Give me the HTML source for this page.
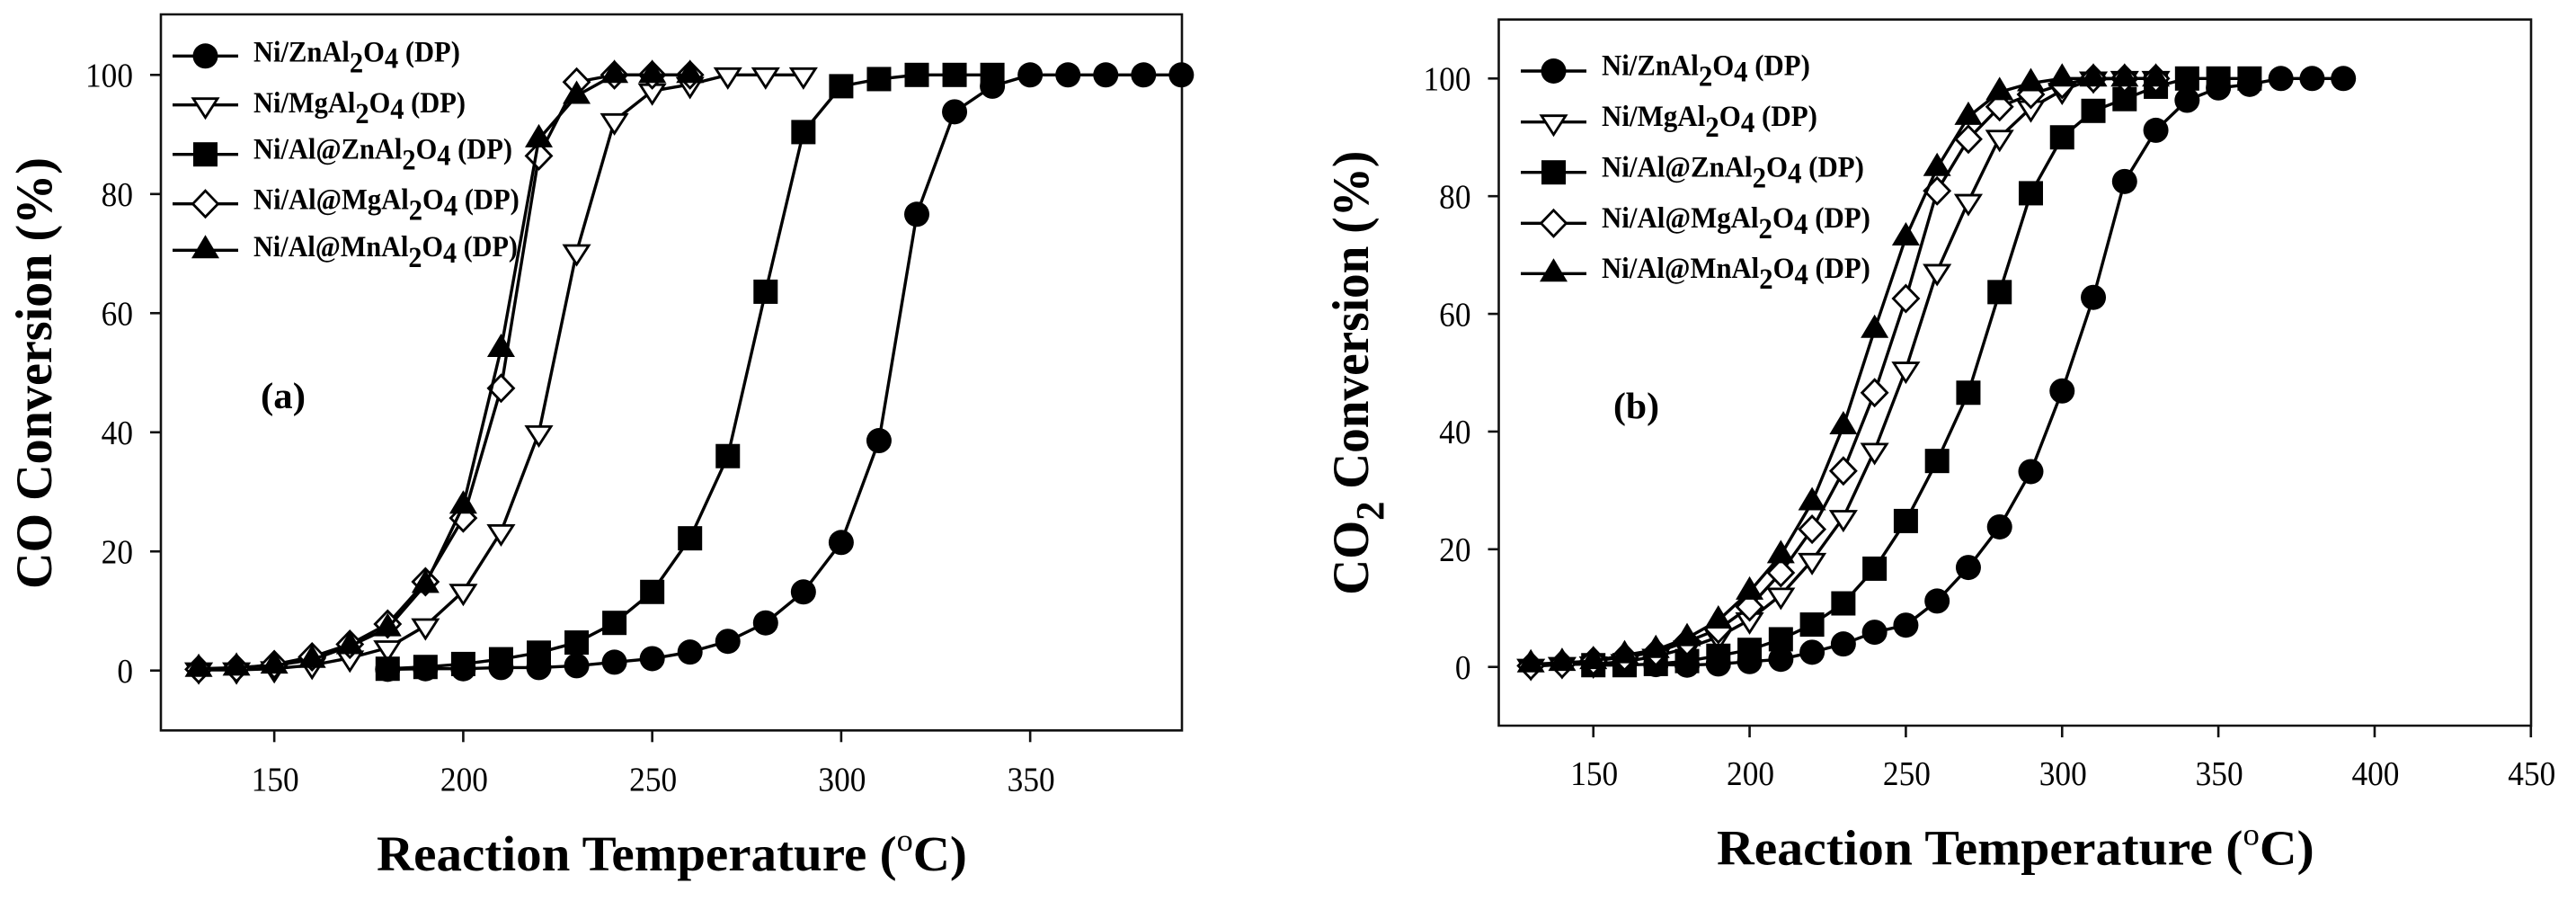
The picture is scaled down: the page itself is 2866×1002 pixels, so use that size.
<!DOCTYPE html>
<html lang="en">
<head>
<meta charset="utf-8">
<title>CO and CO2 conversion versus reaction temperature</title>
<style>
html,body{margin:0;padding:0;background:#fff;}
svg{display:block;}
text{font-family:"Liberation Serif",serif;fill:#000;}
.legend-text{font-size:33px;font-weight:bold;}
.axis-title-x{font-size:55px;font-weight:bold;}
.axis-title-y{font-size:57px;font-weight:bold;}
.panel-tag{font-size:41px;font-weight:bold;}
</style>
</head>
<body>
<svg id="figure" xmlns="http://www.w3.org/2000/svg" width="2866" height="1002" viewBox="0 0 2866 1002">
  <rect width="2866" height="1002" fill="#fff"/>
  <g id="panel-a"></g>
  <g id="panel-b"></g>

  <text class="axis-title-y fit" data-x="57" data-y="655" data-w="480" data-r="1">CO Conversion (%)</text>
  <text class="axis-title-x fit" data-x="419" data-y="968" data-w="657">Reaction Temperature (<tspan font-size="35" font-weight="normal" dy="-22">o</tspan><tspan dy="22">C)</tspan></text>
  <text class="panel-tag fit" data-x="290" data-y="454" data-w="50">(a)</text>

  <text class="legend-text fit" data-x="282" data-y="68.3" data-w="230">Ni/ZnAl<tspan dy="12">2</tspan><tspan dy="-12">O</tspan><tspan dy="7">4</tspan><tspan dy="-7"> (DP)</tspan></text>
  <text class="legend-text fit" data-x="282" data-y="125" data-w="236">Ni/MgAl<tspan dy="12">2</tspan><tspan dy="-12">O</tspan><tspan dy="7">4</tspan><tspan dy="-7"> (DP)</tspan></text>
  <text class="legend-text fit" data-x="282" data-y="176.7" data-w="288">Ni/Al@ZnAl<tspan dy="12">2</tspan><tspan dy="-12">O</tspan><tspan dy="7">4</tspan><tspan dy="-7"> (DP)</tspan></text>
  <text class="legend-text fit" data-x="282" data-y="232.3" data-w="296">Ni/Al@MgAl<tspan dy="12">2</tspan><tspan dy="-12">O</tspan><tspan dy="7">4</tspan><tspan dy="-7"> (DP)</tspan></text>
  <text class="legend-text fit" data-x="282" data-y="285" data-w="294">Ni/Al@MnAl<tspan dy="12">2</tspan><tspan dy="-12">O</tspan><tspan dy="7">4</tspan><tspan dy="-7"> (DP)</tspan></text>

  <text class="axis-title-y fit" data-x="1522" data-y="661.7" data-w="494" data-r="1">CO<tspan font-size="44" dy="17">2</tspan><tspan dy="-17"> Conversion (%)</tspan></text>
  <text class="axis-title-x fit" data-x="1910" data-y="961.7" data-w="665">Reaction Temperature (<tspan font-size="35" font-weight="normal" dy="-22">o</tspan><tspan dy="22">C)</tspan></text>
  <text class="panel-tag fit" data-x="1795" data-y="465" data-w="51">(b)</text>

  <text class="legend-text fit" data-x="1782" data-y="83.3" data-w="232">Ni/ZnAl<tspan dy="12">2</tspan><tspan dy="-12">O</tspan><tspan dy="7">4</tspan><tspan dy="-7"> (DP)</tspan></text>
  <text class="legend-text fit" data-x="1782" data-y="140" data-w="240">Ni/MgAl<tspan dy="12">2</tspan><tspan dy="-12">O</tspan><tspan dy="7">4</tspan><tspan dy="-7"> (DP)</tspan></text>
  <text class="legend-text fit" data-x="1782" data-y="196.7" data-w="292">Ni/Al@ZnAl<tspan dy="12">2</tspan><tspan dy="-12">O</tspan><tspan dy="7">4</tspan><tspan dy="-7"> (DP)</tspan></text>
  <text class="legend-text fit" data-x="1782" data-y="253" data-w="299">Ni/Al@MgAl<tspan dy="12">2</tspan><tspan dy="-12">O</tspan><tspan dy="7">4</tspan><tspan dy="-7"> (DP)</tspan></text>
  <text class="legend-text fit" data-x="1782" data-y="309" data-w="299">Ni/Al@MnAl<tspan dy="12">2</tspan><tspan dy="-12">O</tspan><tspan dy="7">4</tspan><tspan dy="-7"> (DP)</tspan></text>
</svg>

<script>
// Tick labels
const yTickLabels = [0, 20, 40, 60, 80, 100];
const aXTickLabels = [150, 200, 250, 300, 350];
const bXTickLabels = [150, 200, 250, 300, 350, 400, 450];

// Panel (a) CO conversion
const aZnTemps = [180,190,200,210,220,230,240,250,260,270,280,290,300,310,320,330,340,350,360,370,380,390];
const aZnValues = [0.2,0.3,0.3,0.5,0.5,0.8,1.4,2,3.1,4.9,8,13.2,21.5,38.6,76.6,93.8,98.1,100,100,100,100,100];
const aMgTemps = [130,140,150,160,170,180,190,200,210,220,230,240,250,260,270,280,290];
const aMgValues = [0.1,0.1,0.3,0.9,2.1,3.8,7.5,13.3,23.3,39.9,70.3,92.3,97.3,98.4,100,100,100];
const aAlZnTemps = [180,190,200,210,220,230,240,250,260,270,280,290,300,310,320,330,340];
const aAlZnValues = [0.3,0.6,1.1,1.9,3,4.7,8,13.2,22.2,36,63.6,90.4,98.1,99.3,100,100,100];
const aAlMgTemps = [130,140,150,160,170,180,190,200,210,220,230,240,250,260];
const aAlMgValues = [0.2,0.4,1,2.3,4.4,7.8,14.9,25.6,47.4,86.4,98.8,100,100,100];
const aAlMnTemps = [130,140,150,160,170,180,190,200,210,220,230,240,250,260];
const aAlMnValues = [0.3,0.5,0.85,1.8,4.1,7.1,14.4,27.7,54,89.2,96.5,100,100,100];

// Panel (b) CO2 conversion
const bZnTemps = [170,180,190,200,210,220,230,240,250,260,270,280,290,300,310,320,330,340,350,360,370,380,390];
const bZnValues = [0.4,0.3,0.5,0.9,1.3,2.5,3.9,5.9,7.1,11.2,16.9,23.8,33.2,46.9,62.8,82.5,91.2,96.3,98.4,99,100,100,100];
const bMgTemps = [130,140,150,160,170,180,190,200,210,220,230,240,250,260,270,280,290,300,310,320,330];
const bMgValues = [0.1,0.4,0.5,0.9,1.8,3.2,5.1,8,12.2,18.1,25.4,36.8,50.6,67.2,79.1,90,95,98,99.9,100,100];
const bAlZnTemps = [150,160,170,180,190,200,210,220,230,240,250,260,270,280,290,300,310,320,330,340,350,360];
const bAlZnValues = [0.3,0.3,0.5,1,1.9,2.9,4.7,7.2,10.8,16.7,24.8,35,46.6,63.7,80.5,90,94.5,96.5,98.6,100,100,100];
const bAlMgTemps = [130,140,150,160,170,180,190,200,210,220,230,240,250,260,270,280,290,300,310,320,330];
const bAlMgValues = [0.2,0.5,1,1.7,2.5,4.3,6.4,10.2,16,23.4,33.3,46.6,62.6,80.9,89.7,95.2,97.3,99,100,100,100];
const bAlMnTemps = [130,140,150,160,170,180,190,200,210,220,230,240,250,260,270,280,290,300,310,320,330];
const bAlMnValues = [0.46,0.7,1,2,2.9,4.9,7.9,12.8,19,28,40.9,57.3,73,84.8,93.5,97.7,99.2,100,100,100,100];

const NS = 'http://www.w3.org/2000/svg';

function make(parent, tag, attrs) {
  const el = document.createElementNS(NS, tag);
  for (const k in attrs) el.setAttribute(k, attrs[k]);
  parent.appendChild(el);
  return el;
}

function drawMarker(g, kind, cx, cy, name) {
  let el;
  if (kind === 'circle') {
    el = make(g, 'circle', {cx: cx, cy: cy, r: 14, fill: '#000'});
  } else if (kind === 'square') {
    el = make(g, 'rect', {x: cx - 13.5, y: cy - 13.5, width: 27, height: 27, fill: '#000'});
  } else if (kind === 'down') {
    el = make(g, 'polygon', {points: [cx - 13.5, cy - 7, cx + 13.5, cy - 7, cx, cy + 14].join(','), fill: '#fff', stroke: '#000', 'stroke-width': 2.8});
  } else if (kind === 'diamond') {
    el = make(g, 'polygon', {points: [cx, cy - 14.5, cx + 14, cy, cx, cy + 14.5, cx - 14, cy].join(','), fill: '#fff', stroke: '#000', 'stroke-width': 2.8});
  } else {
    el = make(g, 'polygon', {points: [cx, cy - 17, cx + 15.5, cy + 9, cx - 15.5, cy + 9].join(','), fill: '#000'});
  }
  
  
}

function drawPanel(cfg) {
  const root = document.getElementById(cfg.id);
  const xScale = t => cfg.x120 + (t - 120) * cfg.pxPerDeg;
  const yScale = v => cfg.y0 - v * cfg.pxPerPct;

  const frame = make(root, 'path', {d: 'M' + cfg.left + ' ' + cfg.bottom + ' V' + cfg.top + ' H' + cfg.right + ' V' + cfg.bottom + ' Z', fill: 'none', stroke: '#111', 'stroke-width': 2.6});
  
  

  yTickLabels.forEach(v => {
    const y = yScale(v);
    const tick = make(root, 'line', {x1: cfg.left - 12, x2: cfg.left, y1: y, y2: y, stroke: '#111', 'stroke-width': 2.6});
    
    
    const label = make(root, 'text', {'font-size': 38, 'text-anchor': 'end', transform: 'translate(' + (cfg.left - 31) + ' ' + (y + 13.2) + ') scale(0.93 1)'});
    
    
    label.textContent = v;
  });

  cfg.xTicks.forEach(t => {
    const x = xScale(t);
    const tick = make(root, 'line', {x1: x, x2: x, y1: cfg.bottom, y2: cfg.bottom + 13, stroke: '#111', 'stroke-width': 2.6});
    
    
    const label = make(root, 'text', {'font-size': 38, 'text-anchor': 'middle', transform: 'translate(' + (x + 1) + ' ' + cfg.xLabelY + ') scale(0.93 1)'});
    
    
    label.textContent = t;
  });

  cfg.series.forEach(s => {
    const g = make(root, 'g', {});
    
    
    const pts = s.temps.map((t, i) => xScale(t) + ',' + yScale(s.values[i])).join(' ');
    const line = make(g, 'polyline', {points: pts, fill: 'none', stroke: '#000', 'stroke-width': 3.4, 'stroke-linejoin': 'round'});
    
    
    s.temps.forEach((t, i) => drawMarker(g, s.kind, xScale(t), yScale(s.values[i]), cfg.prefix + '-point-' + s.name));
  });

  cfg.legend.forEach((item, i) => {
    const g = make(root, 'g', {});
    
    
    const y = cfg.legendY[i];
    const line = make(g, 'line', {x1: cfg.legendX1, x2: cfg.legendX2, y1: y, y2: y, stroke: '#000', 'stroke-width': 3.4});
    
    
    drawMarker(g, item.kind, (cfg.legendX1 + cfg.legendX2) / 2, y, cfg.prefix + '-legend-marker-' + item.name);
  });
}

const legendItems = [
  {name: 'ni-znal2o4', kind: 'circle'},
  {name: 'ni-mgal2o4', kind: 'down'},
  {name: 'ni-al-znal2o4', kind: 'square'},
  {name: 'ni-al-mgal2o4', kind: 'diamond'},
  {name: 'ni-al-mnal2o4', kind: 'up'}
];

drawPanel({
  id: 'panel-a', prefix: 'panel-a',
  left: 179, right: 1315, top: 16, bottom: 812.3,
  x120: 179, pxPerDeg: 4.205, y0: 745.7, pxPerPct: 6.624,
  xTicks: aXTickLabels, xLabelY: 879.3,
  legend: legendItems, legendX1: 192, legendX2: 265,
  legendY: [62.3, 116.7, 171.7, 226.7, 278.3],
  series: [
    {name: 'ni-znal2o4', kind: 'circle', temps: aZnTemps, values: aZnValues},
    {name: 'ni-mgal2o4', kind: 'down', temps: aMgTemps, values: aMgValues},
    {name: 'ni-al-znal2o4', kind: 'square', temps: aAlZnTemps, values: aAlZnValues},
    {name: 'ni-al-mgal2o4', kind: 'diamond', temps: aAlMgTemps, values: aAlMgValues},
    {name: 'ni-al-mnal2o4', kind: 'up', temps: aAlMnTemps, values: aAlMnValues}
  ]
});

drawPanel({
  id: 'panel-b', prefix: 'panel-b',
  left: 1667.5, right: 2816, top: 21.7, bottom: 807,
  x120: 1668.4, pxPerDeg: 3.477, y0: 741.7, pxPerPct: 6.544,
  xTicks: bXTickLabels, xLabelY: 873,
  legend: legendItems, legendX1: 1692, legendX2: 1765,
  legendY: [79, 135.7, 191.7, 248.3, 304.3],
  series: [
    {name: 'ni-znal2o4', kind: 'circle', temps: bZnTemps, values: bZnValues},
    {name: 'ni-mgal2o4', kind: 'down', temps: bMgTemps, values: bMgValues},
    {name: 'ni-al-znal2o4', kind: 'square', temps: bAlZnTemps, values: bAlZnValues},
    {name: 'ni-al-mgal2o4', kind: 'diamond', temps: bAlMgTemps, values: bAlMgValues},
    {name: 'ni-al-mnal2o4', kind: 'up', temps: bAlMnTemps, values: bAlMnValues}
  ]
});

// Fit the static labels to their measured widths in the figure
document.querySelectorAll('text.fit').forEach(el => {
  const s = parseFloat(el.dataset.w) / el.getComputedTextLength();
  const rot = el.dataset.r ? ' rotate(-90)' : '';
  el.setAttribute('transform', 'translate(' + el.dataset.x + ' ' + el.dataset.y + ')' + rot + ' scale(' + s.toFixed(4) + ' 1)');
});
</script>
</body>
</html>
